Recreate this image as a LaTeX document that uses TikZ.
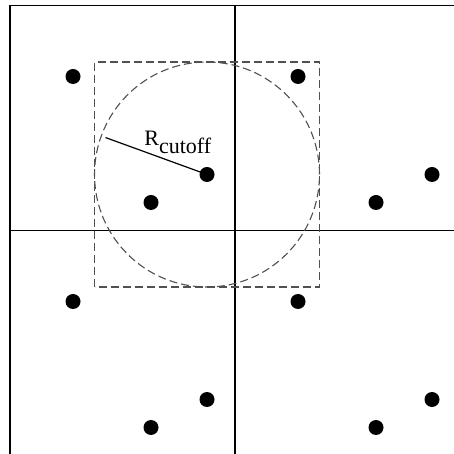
\documentclass[tikz,border=0pt]{standalone}
\usepackage{fontspec}
\setmainfont{Liberation Serif}
\usetikzlibrary{positioning}
\definecolor{cutgray}{RGB}{80,80,80}

\begin{document}
\begin{tikzpicture}[x=0.5pt,y=0.5pt,
    atom/.style={circle,fill=black,inner sep=0pt,minimum size=7.5pt},
    cutline/.style={cutgray,line width=0.55pt,dash pattern=on 4pt off 2pt}]
  \useasboundingbox (0,0) rectangle (454,454);
  % cell borders
  \coordinate (tl) at (10,448.5);
  \coordinate (tr) at (454,448.5);
  \coordinate (bl) at (10,0);
  \coordinate (ml) at (10,223.5);
  \coordinate (mr) at (454,223.5);
  \coordinate (mt) at (235,448.5);
  \coordinate (mb) at (235,0);
  \draw[line width=0.6pt] (tl)--(tr);
  \draw[line width=0.6pt] (tl)--(bl);
  \draw[line width=0.6pt] (ml)--(mr);
  \draw[line width=0.6pt] (mt)--(mb);
  % atoms, same in every cell
  \foreach \cx/\cy in {0/0,1/0,0/1,1/1}{
    \foreach \dx/\dy/\k in {63/-71/a,197/-169/b,141/-197/c}
      \node[atom] (d\cx\cy\k) at ({10+225*\cx+\dx},{448.5-225*\cy+\dy}) {};
  }
  % cutoff sphere and box
  \draw[cutline] (d00b.center) circle (112.5);
  \draw[cutline] ([shift={(-112.5,-112.5)}]d00b.center) rectangle ++(225,225);
  \coordinate (rim) at ([shift={(160:108)}]d00b.center);
  \draw[line width=0.6pt] (d00b.center)--(rim);
  \node[anchor=base west,inner sep=0pt,font=\fontsize{11}{13}\selectfont] (rlab) at (144,308.3) {R\raisebox{-3.9pt}{cutoff}};
\end{tikzpicture}
\end{document}
